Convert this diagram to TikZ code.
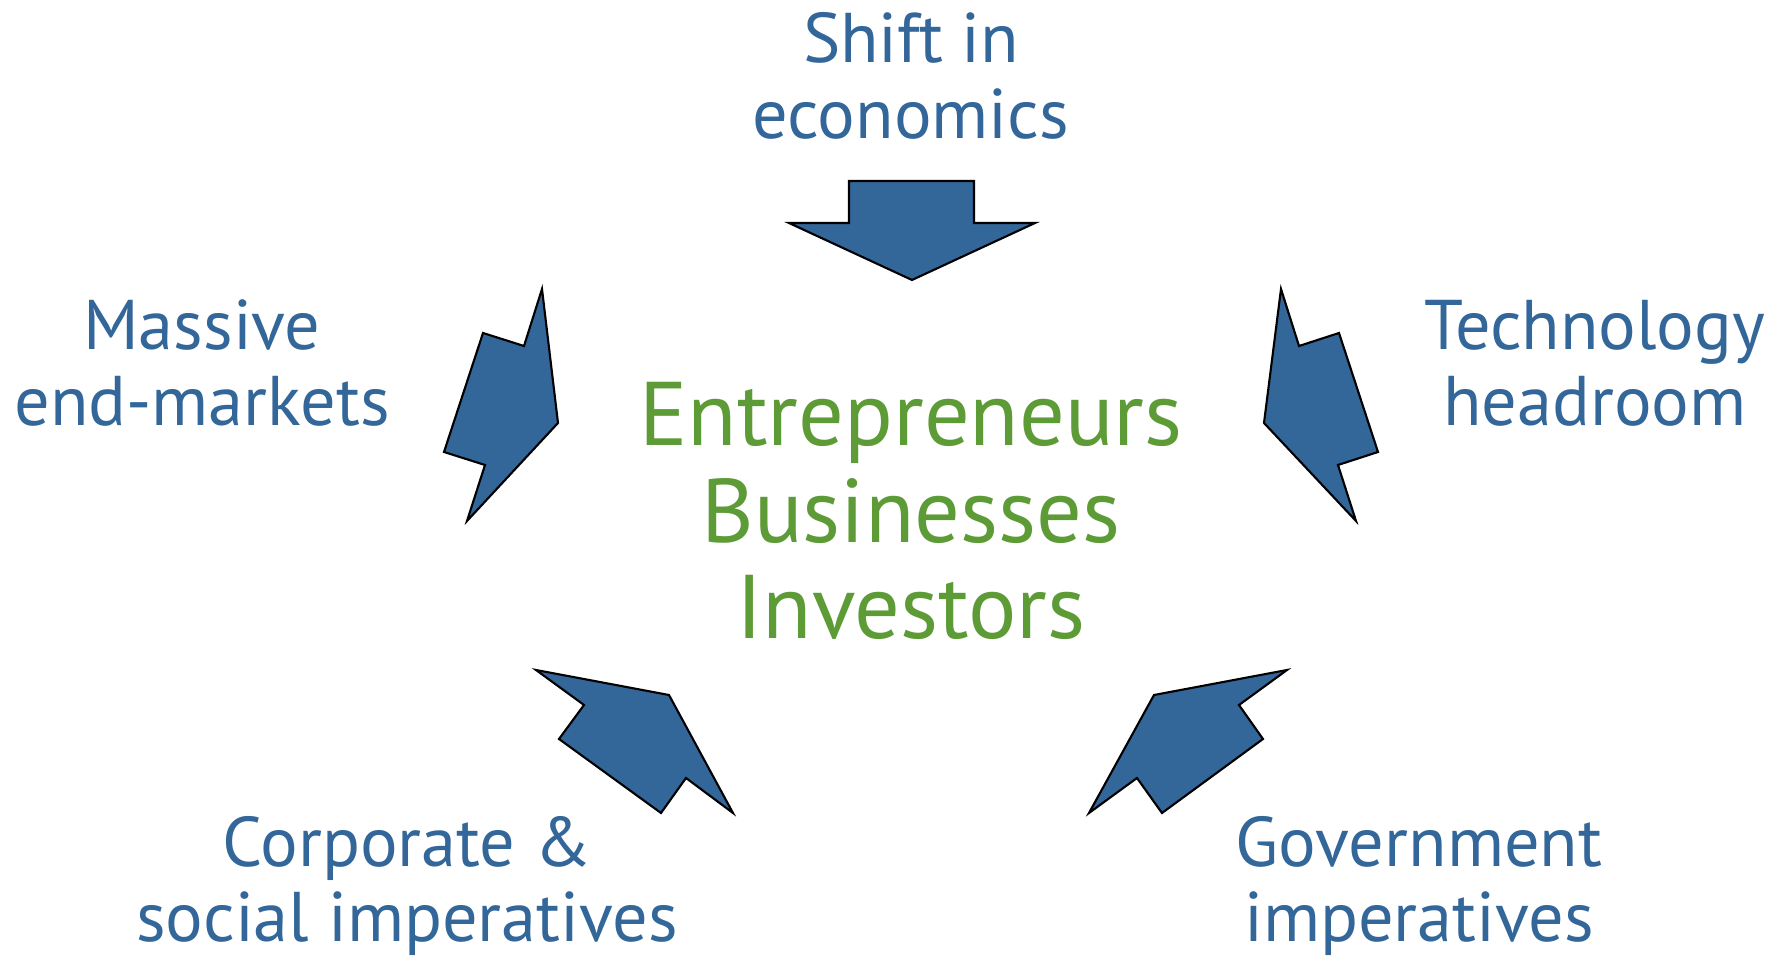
\documentclass[tikz,border=0pt]{standalone}
\usepackage{fontspec}
\setmainfont{PT Sans}
\usepackage{xcolor}
\definecolor{arrowblue}{HTML}{336699}
\definecolor{hubgreen}{HTML}{5C9B35}
\tikzset{
    driver/.style={text=arrowblue, align=center, inner sep=1pt, font=\fontsize{20}{21.6}\selectfont},
    hub/.style={text=hubgreen, align=center, font=\fontsize{25.7}{27.5}\selectfont},
    bigarrow/.style={fill=arrowblue, draw=black, line width=0.6pt, line join=miter}
}

\begin{document}
\begin{tikzpicture}[x=0.01cm, y=-0.01cm]
    \useasboundingbox (0, 0) rectangle (1781, 958);
    \node[hub] (center) at (911, 511) {Entrepreneurs\\Businesses\\Investors};
    \node[driver] (economics) at (911, 76) {Shift in\\economics};
    \node[driver] (markets) at (202, 363) {Massive\\end-markets};
    \node[driver] (technology) at (1595, 363) {Technology\\headroom};
    \node[driver] (corporate) at (407, 886) {Corporate \&\\social imperatives};
    \node[driver] (government) at (1419, 886) {Government\\imperatives};
    \filldraw[bigarrow] (849, 181) -- (974, 181) -- (974, 223) -- (1035, 223) -- (912, 280) -- (789, 223) -- (849, 223) -- cycle;
    \filldraw[bigarrow] (542, 289) -- (558, 423) -- (467, 521) -- (485, 465) -- (444, 452) -- (483, 333) -- (524, 346) -- cycle;
    \filldraw[bigarrow] (1281, 289) -- (1299, 346) -- (1339, 333) -- (1378, 452) -- (1338, 465) -- (1356, 521) -- (1264, 423) -- cycle;
    \filldraw[bigarrow] (536, 670) -- (669, 695) -- (733, 813) -- (686, 778) -- (661, 813) -- (559, 739) -- (584, 705) -- cycle;
    \filldraw[bigarrow] (1287, 670) -- (1154, 695) -- (1089, 813) -- (1137, 778) -- (1162, 813) -- (1263, 739) -- (1239, 705) -- cycle;
\end{tikzpicture}
\end{document}
